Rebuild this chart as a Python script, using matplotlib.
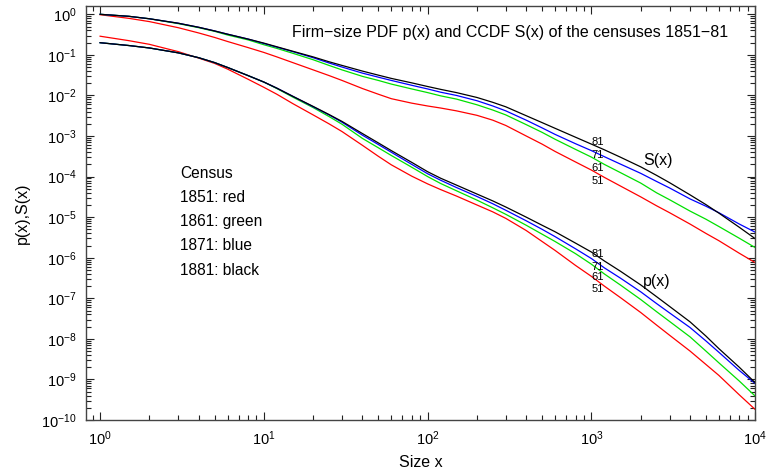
import numpy as np
import matplotlib
matplotlib.use("Agg")
import matplotlib.pyplot as plt
from matplotlib.ticker import LogLocator, NullFormatter

plt.rcParams['font.family'] = ['Liberation Sans', 'DejaVu Sans']

# firm sizes (x) where the curves were read
sizes = np.array([1, 1.5, 2, 3, 4, 5, 6, 8, 10, 12, 15, 20, 25, 30, 40, 50, 60, 80,
                  100, 120, 150, 200, 250, 300, 400, 500, 600, 800, 1000, 1200, 1500,
                  2000, 2500, 3000, 4000, 5000, 6000, 8000, 10000])

# log10 S(x), CCDF
S_1851 = [-0.01, -0.10, -0.18, -0.33, -0.46, -0.57, -0.67, -0.82, -0.94, -1.05, -1.19, -1.37, -1.51,
          -1.63, -1.83, -1.97, -2.08, -2.19, -2.26, -2.31, -2.38, -2.49, -2.61, -2.74, -3.00, -3.20,
          -3.38, -3.64, -3.84, -4.02, -4.23, -4.50, -4.72, -4.89, -5.17, -5.40, -5.58, -5.89, -6.12]
S_1861 = [0.0, -0.05, -0.11, -0.23, -0.33, -0.42, -0.51, -0.63, -0.75, -0.84, -0.96, -1.12, -1.26,
          -1.37, -1.53, -1.63, -1.72, -1.84, -1.93, -2.01, -2.09, -2.23, -2.36, -2.48, -2.72, -2.91,
          -3.08, -3.33, -3.52, -3.70, -3.90, -4.16, -4.40, -4.57, -4.85, -5.05, -5.23, -5.52, -5.75]
S_1871 = [0.0, -0.05, -0.11, -0.22, -0.32, -0.41, -0.49, -0.61, -0.72, -0.81, -0.92, -1.07, -1.20,
          -1.30, -1.45, -1.55, -1.63, -1.75, -1.84, -1.92, -2.00, -2.13, -2.26, -2.38, -2.61, -2.80,
          -2.96, -3.19, -3.36, -3.51, -3.69, -3.92, -4.12, -4.28, -4.55, -4.73, -4.89, -5.17, -5.37]
S_1881 = [0.0, -0.05, -0.11, -0.22, -0.32, -0.41, -0.49, -0.61, -0.71, -0.80, -0.91, -1.05, -1.17,
          -1.26, -1.40, -1.50, -1.58, -1.69, -1.78, -1.85, -1.93, -2.05, -2.17, -2.28, -2.50, -2.67,
          -2.81, -3.03, -3.20, -3.34, -3.52, -3.76, -3.97, -4.15, -4.45, -4.69, -4.90, -5.25, -5.53]

# log10 p(x), PDF
p_1851 = [-0.54, -0.65, -0.74, -0.92, -1.08, -1.21, -1.35, -1.60, -1.80, -1.97, -2.20, -2.48, -2.70,
          -2.89, -3.23, -3.50, -3.71, -3.99, -4.18, -4.32, -4.48, -4.70, -4.87, -5.03, -5.33, -5.60,
          -5.82, -6.19, -6.46, -6.70, -6.98, -7.35, -7.66, -7.91, -8.30, -8.63, -8.90, -9.38, -9.74]
p_1861 = [-0.70, -0.77, -0.83, -0.95, -1.07, -1.19, -1.31, -1.51, -1.67, -1.83, -2.04, -2.30, -2.52,
          -2.71, -3.06, -3.29, -3.48, -3.77, -4.00, -4.17, -4.35, -4.58, -4.77, -4.93, -5.20, -5.42,
          -5.60, -5.90, -6.16, -6.40, -6.67, -7.03, -7.33, -7.57, -7.95, -8.30, -8.59, -9.04, -9.41]
p_1871 = [-0.70, -0.77, -0.83, -0.95, -1.07, -1.19, -1.31, -1.51, -1.67, -1.82, -2.02, -2.28, -2.48,
          -2.66, -2.98, -3.21, -3.40, -3.70, -3.93, -4.09, -4.27, -4.49, -4.67, -4.83, -5.09, -5.30,
          -5.48, -5.78, -6.02, -6.25, -6.50, -6.84, -7.13, -7.36, -7.72, -8.05, -8.33, -8.78, -9.10]
p_1881 = [-0.70, -0.77, -0.83, -0.95, -1.07, -1.19, -1.31, -1.51, -1.67, -1.82, -2.02, -2.27, -2.47,
          -2.64, -2.94, -3.17, -3.36, -3.65, -3.88, -4.04, -4.21, -4.43, -4.60, -4.75, -5.00, -5.20,
          -5.36, -5.64, -5.86, -6.08, -6.33, -6.67, -6.96, -7.20, -7.58, -7.93, -8.24, -8.70, -9.08]

years = ['51', '61', '71', '81']
colors = ['#ff0000', '#00e000', '#0000ff', '#000000']
legend_lines = ['Census', '1851: red', '1861: green', '1871: blue', '1881: black']

fig = plt.figure(figsize=(7.67, 4.74), dpi=100)
ax = fig.add_axes([0.1121, 0.1139, 0.8725, 0.8734])

for s, c in zip([S_1851, S_1861, S_1871, S_1881], colors):
    ax.plot(sizes, 10.0 ** np.array(s), color=c, lw=0.9)
for p, c in zip([p_1851, p_1861, p_1871, p_1881], colors):
    ax.plot(sizes, 10.0 ** np.array(p), color=c, lw=0.9)

ax.set_xscale('log')
ax.set_yscale('log')
ax.set_xlim(0.82, 1e4)
ax.set_ylim(1e-10, 1.6)

ax.yaxis.set_major_locator(LogLocator(base=10, numticks=20))
ax.yaxis.set_minor_locator(LogLocator(base=10, subs=np.arange(2, 10), numticks=100))
ax.yaxis.set_minor_formatter(NullFormatter())
ax.xaxis.set_minor_locator(LogLocator(base=10, subs=np.arange(2, 10), numticks=100))
ax.xaxis.set_minor_formatter(NullFormatter())

ax.tick_params(which='both', direction='in', top=True, right=True, width=0.8, colors='#222222')
ax.tick_params(which='major', length=6, labelsize=10.5, pad=7, labelcolor='black')
ax.tick_params(which='minor', length=3.5)
for sp in ax.spines.values():
    sp.set_color('#444444')
    sp.set_linewidth(1.0)

ax.set_xlabel('Size x', fontsize=11.5, labelpad=5)
ax.set_ylabel('p(x),S(x)', fontsize=11.5, labelpad=8)

ax.text(0.633, 0.935, 'Firm\u2212size PDF p(x) and CCDF S(x) of the censuses 1851\u221281',
        transform=ax.transAxes, ha='center', va='center', fontsize=11.5)

for i, t in enumerate(legend_lines):
    ax.text(0.141, 0.596 - i * 0.0585, t, transform=ax.transAxes,
            ha='left', va='center', fontsize=11.2)

# year labels next to the curves
s_label_y = [10 ** -4.11, 10 ** -3.79, 10 ** -3.47, 10 ** -3.14]
p_label_y = [10 ** -6.76, 10 ** -6.47, 10 ** -6.22, 10 ** -5.9]
for yr, ys, yp in zip(years, s_label_y, p_label_y):
    ax.text(1090, ys, yr, ha='center', va='center', fontsize=8)
    ax.text(1090, yp, yr, ha='center', va='center', fontsize=8)

ax.text(2560, 10 ** -3.6, 'S(x)', ha='center', va='center', fontsize=11.5)
ax.text(2490, 10 ** -6.59, 'p(x)', ha='center', va='center', fontsize=11.5)

fig.savefig('out.png', dpi=100)
